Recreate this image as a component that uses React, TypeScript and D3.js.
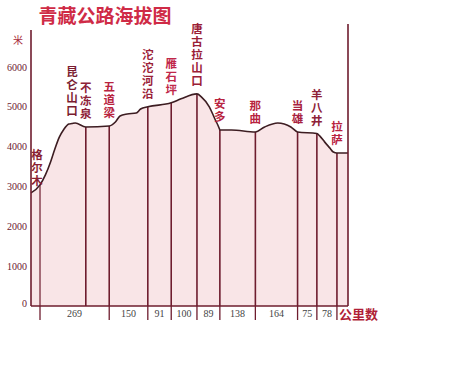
import React from "react";
import * as d3 from "d3";

// ---- data ----
const title = "青藏公路海拔图";
const segmentKm = [269, 150, 91, 100, 89, 138, 164, 75, 78];
const stationNames = ["格尔木", "昆仑山口", "不冻泉", "五道梁", "沱沱河沿", "雁石坪", "唐古拉山口", "安多", "那曲", "当雄", "羊八井", "拉萨"];
const stationKm = [0, 124, 178, 269, 419, 510, 610, 699, 837, 1001, 1076, 1154];
const stationHasLine = [true, false, true, true, true, true, true, true, true, true, true, true];
const elevTicks = [0, 1000, 2000, 3000, 4000, 5000, 6000];
const profileKm = [-35, 0, 21, 41, 54, 75, 91, 112, 124, 137, 178, 269, 293, 311, 339, 374, 391, 419, 510, 548, 610, 627, 658, 678, 696, 699, 744, 837, 873, 924, 975, 1001, 1076, 1087, 1106, 1126, 1140, 1154, 1197];
const profileElev = [2840, 3040, 3290, 3615, 3870, 4240, 4420, 4570, 4580, 4595, 4495, 4520, 4620, 4770, 4820, 4845, 4945, 5000, 5100, 5200, 5325, 5250, 5000, 4720, 4470, 4420, 4420, 4370, 4495, 4595, 4495, 4370, 4330, 4270, 4120, 3970, 3865, 3840, 3840];

const W = 465, H = 387;

export default function App() {
  const x = d3.scaleLinear().domain([-35, 1197]).range([31, 348]);
  const y = d3.scaleLinear().domain([0, 6000]).range([306, 67]);
  const pts: [number, number][] = profileKm.map((k, i) => [k, profileElev[i]]);
  const line = d3.line<[number, number]>().x(d => x(d[0])).y(d => y(d[1])).curve(d3.curveMonotoneX);
  const area = d3.area<[number, number]>().x(d => x(d[0])).y0(y(0)).y1(d => y(d[1])).curve(d3.curveMonotoneX);
  const elevAt = (k: number) => {
    const i = profileKm.indexOf(k);
    if (i >= 0) return profileElev[i];
    const j = d3.bisectLeft(profileKm, k);
    const t = (k - profileKm[j - 1]) / (profileKm[j] - profileKm[j - 1]);
    return profileElev[j - 1] + t * (profileElev[j] - profileElev[j - 1]);
  };
  const tickKm = [0, ...d3.cumsum(segmentKm)];
  const base = y(0);
  const [d0, d1] = x.domain();
  const maroon = "#6e1c2e";
  const labelColors = ["#8a1f33", "#7a1c30", "#8e2238", "#b8233f", "#9a2036", "#c0274a", "#9a2036", "#b8233f", "#b8233f", "#a82240", "#8e2238", "#b8233f"];
  return (
    <svg width={W} height={H} style={{ position: "absolute", left: 0, top: 0, background: "#fff" }}>
      <text x={105} y={14} textAnchor="middle" dominantBaseline="central" fontFamily="Noto Sans CJK SC" fontWeight="bold" fontSize={19} fill="#cf2b46">{title}</text>
      <path d={area(pts) || ""} fill="#f9e5e7" />
      {stationKm.map((k, i) => stationHasLine[i] ? (
        <line key={"s" + i} x1={x(k)} x2={x(k)} y1={base} y2={y(elevAt(k))} stroke={maroon} strokeWidth={i === 0 ? 1.2 : 1.6} />
      ) : null)}
      <path d={line(pts) || ""} fill="none" stroke="#3d1d22" strokeWidth={1.6} />
      {/* axes */}
      <line x1={x(d0)} x2={x(d0)} y1={30} y2={base} stroke={maroon} strokeWidth={1.6} />
      <line x1={x(d1)} x2={x(d1)} y1={24} y2={base} stroke={maroon} strokeWidth={1.6} />
      <line x1={x(d0)} x2={x(d1)} y1={base} y2={base} stroke={maroon} strokeWidth={1.6} />
      {elevTicks.map(t => (
        <text key={"e" + t} x={27} y={y(t) + (t === 0 ? -3 : 0)} textAnchor="end" dominantBaseline="central" fontFamily="Liberation Serif" fontSize={10} fill="#6b2030">{t}</text>
      ))}
      <text x={18} y={39} textAnchor="middle" dominantBaseline="central" fontFamily="Noto Sans CJK SC" fontSize={10} fill="#a82a3c">米</text>
      {tickKm.map((k, i) => (
        <line key={"t" + i} x1={x(k)} x2={x(k)} y1={base} y2={base + 14} stroke={maroon} strokeWidth={1.3} />
      ))}
      {segmentKm.map((s, i) => (
        <text key={"d" + i} x={(x(tickKm[i]) + x(tickKm[i + 1])) / 2} y={313} textAnchor="middle" dominantBaseline="central" fontFamily="Liberation Serif" fontSize={10} fill="#444">{s}</text>
      ))}
      <text x={339} y={313} dominantBaseline="central" fontFamily="Noto Sans CJK SC" fontWeight="bold" fontSize={13} fill="#b01f38">公里数</text>
      {stationNames.map((name, i) => {
        const k = stationKm[i];
        const chars = Array.from(name);
        const first = i === 0;
        const cx = x(k) - (first ? 3 : 0);
        const bottom = y(elevAt(k)) - (first ? 5 : 14);
        return (
          <g key={"n" + i}>
            {chars.map((c, j) => (
              <text key={j} x={cx} y={bottom - (chars.length - 1 - j) * 13} textAnchor="middle" dominantBaseline="central" fontFamily="Noto Sans CJK SC" fontWeight="bold" fontSize={11.5} fill={labelColors[i]}>{c}</text>
            ))}
          </g>
        );
      })}
    </svg>
  );
}
